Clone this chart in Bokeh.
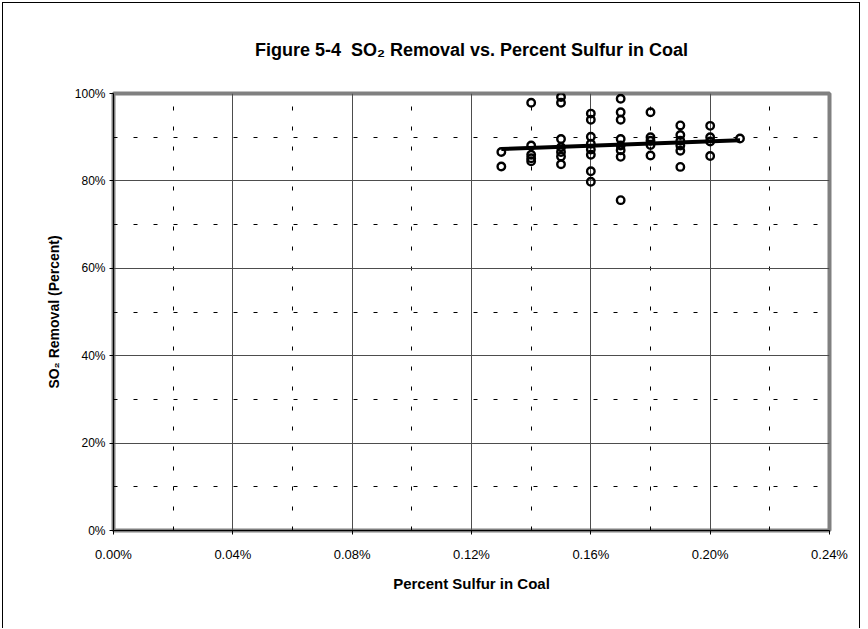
from bokeh.plotting import figure
from bokeh.models import SingleIntervalTicker, PrintfTickFormatter, Range1d
from bokeh.embed import file_html
from bokeh.resources import INLINE

# Percent sulfur in coal (x) and SO2 removal in percent (y)
sulfur = [0.13, 0.13,
          0.14, 0.14, 0.14, 0.14, 0.14,
          0.15, 0.15, 0.15, 0.15, 0.15, 0.15, 0.15,
          0.16, 0.16, 0.16, 0.16, 0.16, 0.16, 0.16, 0.16,
          0.17, 0.17, 0.17, 0.17, 0.17, 0.17, 0.17, 0.17,
          0.18, 0.18, 0.18, 0.18, 0.18,
          0.19, 0.19, 0.19, 0.19, 0.19, 0.19,
          0.20, 0.20, 0.20, 0.20,
          0.21]
removal = [86.6, 83.3,
           97.9, 88.1, 86.0, 85.2, 84.5,
           99.2, 97.9, 89.6, 87.7, 86.6, 85.6, 83.8,
           95.4, 94.0, 90.1, 88.5, 87.2, 86.0, 82.2, 79.8,
           98.8, 95.7, 94.0, 89.6, 88.1, 87.0, 85.5, 75.6,
           95.7, 90.0, 89.2, 88.2, 85.8,
           92.7, 90.5, 89.2, 88.1, 86.9, 83.2,
           92.6, 90.0, 89.0, 85.7,
           89.7]
trend_sulfur = [0.13, 0.21]
trend_removal = [87.3, 89.3]

title_text = "Figure 5-4\u00a0 SO\u2082 Removal vs. Percent Sulfur in Coal"
x_label = "Percent Sulfur in Coal"
y_label = "SO\u2082 Removal (Percent)"

FONT = "Liberation Sans"

p = figure(width=858, height=626, output_backend="svg", toolbar_location=None,
           x_range=Range1d(0, 0.24), y_range=Range1d(0, 100),
           min_border_left=110, min_border_right=32,
           min_border_top=90, min_border_bottom=99)
p.styles = {"border-left": "1px solid black", "border-top": "1px solid black",
            "border-right": "1px solid black", "margin-left": "2px", "margin-top": "2px"}
p.background_fill_color = "white"
p.border_fill_color = "white"
p.outline_line_color = "#808080"
p.outline_line_width = 4

# title
p.title.text = title_text
p.title.align = "center"
p.title.vertical_align = "top"
p.title.text_font = FONT
p.title.text_font_size = "18px"
p.title.text_font_style = "bold"
p.title.text_color = "black"
p.title.standoff = 64

# axes
xt = SingleIntervalTicker(interval=0.04, num_minor_ticks=2)
yt = SingleIntervalTicker(interval=20, num_minor_ticks=2)
p.xaxis.ticker = xt
p.yaxis.ticker = yt
p.xaxis.formatter = PrintfTickFormatter(format="%.2f%%")
p.yaxis.formatter = PrintfTickFormatter(format="%d%%")
for ax in (p.xaxis, p.yaxis):
    ax.axis_line_color = "black"
    ax.axis_line_width = 1
    ax.major_tick_line_color = "black"
    ax.major_tick_in = 0
    ax.major_tick_out = 4
    ax.minor_tick_line_color = None
    ax.major_label_text_color = "black"
    ax.axis_label_text_color = "black"
    ax.axis_label_text_font_style = "bold"

p.xaxis.axis_label = x_label
p.xaxis.major_label_text_font = FONT
p.xaxis.major_label_text_font_size = "13px"
p.xaxis.major_label_standoff = 12
p.xaxis.axis_label_text_font = FONT
p.xaxis.axis_label_text_font_size = "15px"
p.xaxis.axis_label_standoff = 10

p.yaxis.axis_label = y_label
p.yaxis.major_label_text_font = FONT
p.yaxis.major_label_text_font_size = "12px"
p.yaxis.major_label_standoff = 4
p.yaxis.axis_label_text_font = FONT
p.yaxis.axis_label_text_font_size = "14px"
p.yaxis.axis_label_standoff = 10

# grids
for g in (p.xgrid, p.ygrid):
    g.grid_line_color = "#4d4d4d"
    g.grid_line_width = 1
    g.minor_grid_line_color = "black"
    g.minor_grid_line_width = 1
    g.minor_grid_line_dash = "4 16"

# data
p.scatter(sulfur, removal, marker="circle", size=7.5, fill_color="white",
          fill_alpha=0, line_color="black", line_width=2.4)
p.line(trend_sulfur, trend_removal, line_color="black", line_width=4)

open("out.html", "w").write(file_html(p, INLINE))
